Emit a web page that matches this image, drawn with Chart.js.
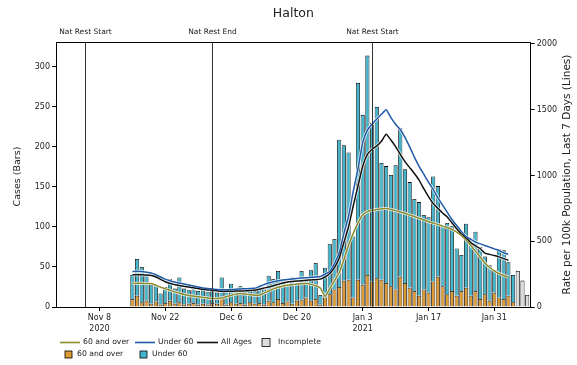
<!DOCTYPE html>
<html>
<head>
<meta charset="utf-8">
<title>Halton</title>
<script src="https://cdn.jsdelivr.net/npm/chart.js@4.4.0/dist/chart.umd.min.js"></script>
<style>
  html, body { margin: 0; padding: 0; background: #fff; }
  #wrap { width: 577px; height: 365px; }
</style>
</head>
<body>
<div id="wrap"><canvas id="halton-chart" width="577" height="365"></canvas></div>
<script>
// x values are days counted from Nov 8 2020 (day 0)
const firstBarDay = 7;   // Nov 15
const firstRateDay = 7;

// daily cases (bars), Nov 15 .. Feb 4
const over60Cases = [10,14,6,8,4,7,3,5,8,4, 6,3,4,5,3,4,3,5,4,12, 3,6,4,5,3,6,4,5,3,8,
  6,10,5,7,4,8,9,12,8,10, 3,12, 16,22,25,33,34,12,34,28,40,32, 36,34,30,26,22,38,30,24,20,14,
  22,18,32,38,26,16,20,14,20,24, 14,20,10,16,8,18,12,10,14,6];
const under60Cases = [30,46,44,32,24,20,14,20,27,19, 31,20,17,17,17,17,16,15,14,25, 19,23,17,21,19,17,16,22,19,31,
  29,35,30,21,33,22,36,21,38,45, 12,37, 63,63,184,169,159,76,246,212,274,198, 214,146,146,139,155,186,142,132,115,117,
  93,94,131,113,75,89,81,59,45,80, 65,74,65,47,44,28,60,61,42,34];
const incompleteDays = [89, 90, 91];
const incompleteCases = [45, 33, 15];

// rate per 100k, last 7 days (lines), Nov 15 .. Feb 3
const rateOver60 = [178,180,180,179,178,165,150,138,127,115, 104,95,88,83,78,73,68,65,64,68,
  78,88,98,102,98,94,90,89,105,122, 138,150,158,165,170,174,177,178,172,162,
  145,80,140,200,260,360,470,560,640,700, 725,735,742,746,749,742,733,722,713,700,
  688,675,662,648,638,628,615,605,590,570, 545,510,470,425,380,335,300,275,255,240, 228];
const rateUnder60 = [270,272,270,265,259,245,228,212,200,190, 182,175,168,160,152,145,140,136,133,131,
  131,133,135,137,139,140,142,155,170,182, 192,200,205,209,213,217,220,223,226,228,
  232,250,270,330,410,560,690,880,1050,1250, 1345,1390,1430,1465,1500,1440,1390,1350,1290,1218,
  1140,1070,1010,950,895,830,775,720,665,620, 575,535,515,495,480,468,455,442,430,412, 400];
const rateAllAges = [245,246,245,243,240,228,210,192,178,170, 163,157,152,146,140,134,130,127,123,119,
  119,120,121,122,123,125,127,135,144,152, 162,172,182,190,194,197,200,203,206,208,
  212,228,255,300,370,490,610,770,920,1070, 1160,1200,1225,1260,1313,1270,1220,1160,1105,1060,
  1015,965,900,840,787,750,715,685,640,595, 555,525,490,465,445,410,400,392,381,368, 356];

const tickDays = [0, 14, 28, 42, 56, 70, 84];
const tickLabels = [['Nov 8', '2020'], 'Nov 22', 'Dec 6', 'Dec 20', ['Jan 3', '2021'], 'Jan 17', 'Jan 31'];
const casesTicks = [0, 50, 100, 150, 200, 250, 300];
const rateTicks = [0, 500, 1000, 1500, 2000];
const restrictionDays = [-3, 24, 58];
const restrictionLabels = ['Nat Rest Start', 'Nat Rest End', 'Nat Rest Start'];

const ORANGE = '#dc9a36';
const TEAL = '#45b5cc';
const GREY = '#dcdcdc';
const OLIVE = '#8b8b2e';
const BLUE = '#1f5aa6';
const BLACK = '#111111';
const FONT = '"DejaVu Sans", sans-serif';

Chart.defaults.font.family = FONT;
Chart.defaults.color = '#222';

const toPoints = (values, start) => values.map((v, i) => ({ x: start + i, y: v }));

const barStyle = { borderColor: '#000', borderWidth: 0.8, barPercentage: 0.88, categoryPercentage: 1, yAxisID: 'y' };
const lineStyle = { type: 'line', yAxisID: 'y2', pointRadius: 0, fill: false, tension: 0.15 };

// titles, restriction markers and legend drawn on top of the chart
const decorations = {
  id: 'decorations',
  afterDatasetsDraw(chart) {
    const { ctx, chartArea: a, scales } = chart;
    ctx.save();
    ctx.strokeStyle = '#333';
    ctx.lineWidth = 1;
    ctx.fillStyle = '#222';
    ctx.font = '7.5px ' + FONT;
    ctx.textAlign = 'center';
    ctx.textBaseline = 'middle';
    restrictionDays.forEach((d, i) => {
      const x = Math.round(scales.x.getPixelForValue(d)) + 0.5;
      ctx.beginPath();
      ctx.moveTo(x, a.top);
      ctx.lineTo(x, a.bottom);
      ctx.stroke();
      ctx.fillText(restrictionLabels[i], x, a.top - 10);
    });
    ctx.restore();
  },
  afterDraw(chart) {
    const { ctx, chartArea: a } = chart;
    ctx.save();
    // top spine
    ctx.strokeStyle = '#000';
    ctx.lineWidth = 1;
    ctx.beginPath();
    ctx.moveTo(a.left, a.top + 0.5);
    ctx.lineTo(a.right, a.top + 0.5);
    ctx.stroke();

    ctx.fillStyle = '#222';
    ctx.textAlign = 'center';
    ctx.textBaseline = 'middle';
    ctx.font = '12.5px ' + FONT;
    ctx.fillText('Halton', (a.left + a.right) / 2, 14);

    // axis titles, both reading bottom to top
    const midY = (a.top + a.bottom) / 2;
    ctx.font = '9.5px ' + FONT;
    ctx.save();
    ctx.translate(18, midY + 2);
    ctx.rotate(-Math.PI / 2);
    ctx.fillText('Cases (Bars)', 0, 0);
    ctx.restore();
    ctx.font = '10.5px ' + FONT;
    ctx.save();
    ctx.translate(567, midY);
    ctx.rotate(-Math.PI / 2);
    ctx.fillText('Rate per 100k Population, Last 7 Days (Lines)', 0, 0);
    ctx.restore();

    // legend
    ctx.font = '7.7px ' + FONT;
    ctx.textAlign = 'left';
    const line = (x1, x2, y, color) => {
      ctx.strokeStyle = color;
      ctx.lineWidth = 1.6;
      ctx.beginPath();
      ctx.moveTo(x1, y);
      ctx.lineTo(x2, y);
      ctx.stroke();
    };
    const box = (x, y, s, color) => {
      ctx.fillStyle = color;
      ctx.fillRect(x, y - s / 2, s, s);
      ctx.strokeStyle = '#000';
      ctx.lineWidth = 0.8;
      ctx.strokeRect(x, y - s / 2, s, s);
    };
    const text = (t, x, y) => { ctx.fillStyle = '#222'; ctx.fillText(t, x, y); };
    const r1 = 342.5, r2 = 354.5;
    line(60, 80, r1, OLIVE); text('60 and over', 83, r1);
    line(135, 155, r1, BLUE); text('Under 60', 158, r1);
    line(197, 218, r1, BLACK); text('All Ages', 221, r1);
    box(262, r1, 8, GREY); text('Incomplete', 278, r1);
    box(65, r2, 7, ORANGE); text('60 and over', 77, r2);
    box(140, r2, 7, TEAL); text('Under 60', 152, r2);
    ctx.restore();
  }
};

new Chart(document.getElementById('halton-chart'), {
  type: 'bar',
  data: {
    datasets: [
      { ...lineStyle, label: '60 and over', data: toPoints(rateOver60, firstRateDay), borderColor: OLIVE, borderWidth: 1.5, order: 0 },
      { ...lineStyle, label: 'Under 60', data: toPoints(rateUnder60, firstRateDay), borderColor: BLUE, borderWidth: 1.5, order: 1 },
      { ...lineStyle, label: 'All Ages', data: toPoints(rateAllAges, firstRateDay), borderColor: BLACK, borderWidth: 1.5, order: 2 },
      { ...lineStyle, label: 'halo a', data: toPoints(rateOver60, firstRateDay), borderColor: 'rgba(255,255,255,0.85)', borderWidth: 3, order: 3 },
      { ...lineStyle, label: 'halo b', data: toPoints(rateUnder60, firstRateDay), borderColor: 'rgba(255,255,255,0.85)', borderWidth: 3, order: 4 },
      { ...lineStyle, label: 'halo c', data: toPoints(rateAllAges, firstRateDay), borderColor: 'rgba(255,255,255,0.85)', borderWidth: 3, order: 5 },
      { ...barStyle, label: '60 and over', data: toPoints(over60Cases, firstBarDay), backgroundColor: ORANGE, order: 10 },
      { ...barStyle, label: 'Under 60', data: toPoints(under60Cases, firstBarDay), backgroundColor: TEAL, order: 11 },
      { ...barStyle, label: 'Incomplete', data: incompleteDays.map((d, i) => ({ x: d, y: incompleteCases[i] })), backgroundColor: GREY, order: 12 }
    ]
  },
  options: {
    responsive: false,
    animation: false,
    layout: { padding: { top: 42, left: 0, right: 0, bottom: 0 } },
    plugins: { legend: { display: false }, title: { display: false }, tooltip: { enabled: false } },
    scales: {
      x: {
        type: 'linear',
        min: -9.25,
        max: 91.75,
        stacked: true,
        offset: false,
        afterBuildTicks: (s) => { s.ticks = tickDays.map(v => ({ value: v })); },
        afterFit: (s) => { s.height = 58; },
        ticks: {
          autoSkip: false, maxRotation: 0, padding: 2,
          font: { size: 8, lineHeight: 1.35 }, color: '#222',
          callback: (v, i) => tickLabels[i]
        },
        grid: { drawOnChartArea: false, offset: false, tickLength: 4, color: '#000' },
        border: { display: true, color: '#000', width: 1 }
      },
      y: {
        type: 'linear',
        position: 'left',
        min: 0,
        max: 331,
        stacked: true,
        afterBuildTicks: (s) => { s.ticks = casesTicks.map(v => ({ value: v })); },
        afterFit: (s) => { s.width = 56; },
        ticks: { padding: 2, font: { size: 8 }, color: '#222', callback: (v) => String(v) },
        grid: { drawOnChartArea: false, tickLength: 4, color: '#000' },
        border: { display: true, color: '#000', width: 1 }
      },
      y2: {
        type: 'linear',
        position: 'right',
        min: 0,
        max: 2015,
        afterBuildTicks: (s) => { s.ticks = rateTicks.map(v => ({ value: v })); },
        afterFit: (s) => { s.width = 46.3; },
        ticks: { padding: 2, font: { size: 8 }, color: '#222', callback: (v) => String(v) },
        grid: { drawOnChartArea: false, tickLength: 4, color: '#000' },
        border: { display: true, color: '#000', width: 1 }
      }
    }
  },
  plugins: [decorations]
});
</script>
</body>
</html>
